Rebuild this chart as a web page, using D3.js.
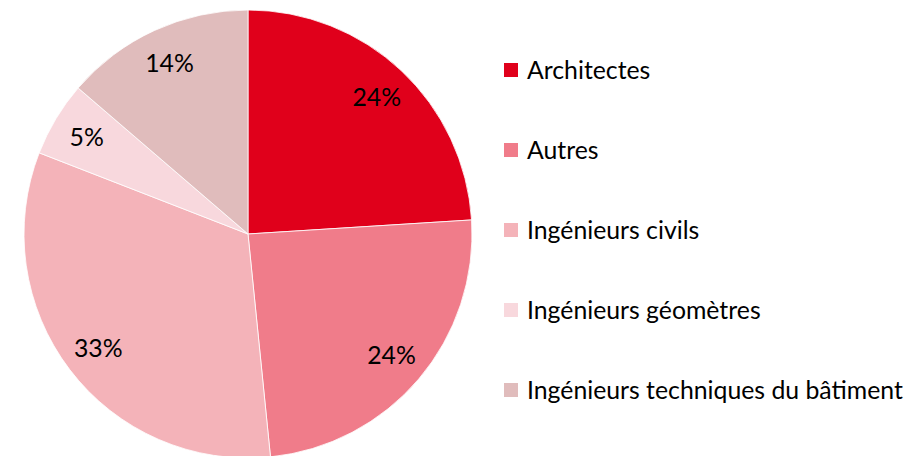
<!DOCTYPE html>
<html>
<head>
<meta charset="utf-8">
<script src="https://cdn.jsdelivr.net/npm/d3@7"></script>
<style>
  body { margin: 0; background: #fff; }
  text { font-family: Lato, "Open Sans", sans-serif; fill: #000; }
</style>
</head>
<body>
<div id="vis"></div>
<script>
// chart data
const categories = ['Architectes', 'Autres', 'Ingénieurs civils', 'Ingénieurs géomètres', 'Ingénieurs techniques du bâtiment'];
const shares = [24.0, 24.4, 32.5, 5.4, 13.7];
const colors = ['#E0001B', '#F07C8A', '#F4B3B9', '#F8D8DD', '#E0BCBC'];

let width = 907, height = 456;
let cx = 248, cy = 234, radius = 224;
let fontSize = 24.8;

let svg = d3.select('#vis')
  .append('svg')
  .attr('width', width)
  .attr('height', height);

let data = categories.map(function(c, i) { return {name: c, value: shares[i]}; });

let color = d3.scaleOrdinal()
  .domain(categories)
  .range(colors);

let pie = d3.pie()
  .value(function(d) { return d.value; })
  .sort(null);

let arc = d3.arc()
  .innerRadius(0)
  .outerRadius(radius);

// label arc sits at ~84% of radius
let labelArc = d3.arc()
  .innerRadius(radius * 0.84)
  .outerRadius(radius * 0.84);

let g = svg.append('g')
  .attr('transform', 'translate(' + cx + ',' + cy + ')');

let arcs = pie(data);

g.selectAll('path')
  .data(arcs)
  .join('path')
  .attr('d', arc)
  .attr('fill', function(d) { return color(d.data.name); })
  .attr('stroke', '#fff')
  .attr('stroke-width', 0.8);

g.selectAll('text')
  .data(arcs)
  .join('text')
  .attr('transform', function(d) { return 'translate(' + labelArc.centroid(d) + ')'; })
  .attr('text-anchor', 'middle')
  .attr('dy', '0.35em')
  .style('font-size', fontSize + 'px')
  .text(function(d) { return Math.round(d.data.value) + '%'; });

// legend
let legend = svg.selectAll('.legend')
  .data(categories)
  .enter().append('g')
  .attr('class', 'legend')
  .attr('transform', function(d, i) { return 'translate(504,' + (70 + i * 80) + ')'; });

legend.append('rect')
  .attr('x', 0)
  .attr('y', -7)
  .attr('width', 14)
  .attr('height', 14)
  .attr('fill', function(d) { return color(d); });

legend.append('text')
  .attr('x', 23)
  .attr('dy', '0.35em')
  .style('font-size', fontSize + 'px')
  .text(function(d) { return d; });
</script>
</body>
</html>
